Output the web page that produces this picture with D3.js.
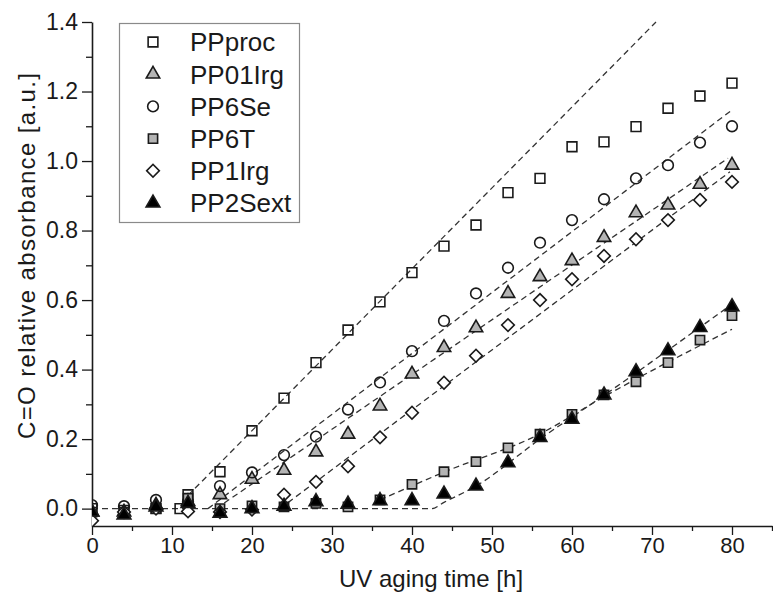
<!DOCTYPE html>
<html><head><meta charset="utf-8">
<script src="https://cdn.jsdelivr.net/npm/d3@7"></script>
<style>
html,body{margin:0;padding:0;background:#fff;}
svg{display:block;font-family:"Liberation Sans",Arial,sans-serif;}
</style></head>
<body><svg id="c" width="773" height="597"></svg>
<script>
// ---- data ----
const hoursProc = [0,4,8,11,12,16,20,24,28,32,36,40,44,48,52,56,60,64,68,72,76,80];
const hours = [0,4,8,12,16,20,24,28,32,36,40,44,48,52,56,60,64,68,72,76,80];
const PPproc  = [0,-0.005,0,0,0.04,0.106,0.224,0.318,0.42,0.514,0.595,0.679,0.755,0.816,0.909,0.95,1.041,1.055,1.099,1.152,1.187,1.224];
const PP01Irg = [-0.01,-0.01,0.01,0.02,0.04,0.084,0.11,0.163,0.214,0.295,0.387,0.463,0.52,0.619,0.667,0.713,0.78,0.851,0.873,0.933,0.988];
const PP6Se   = [0.01,0.007,0.025,0.02,0.065,0.104,0.154,0.207,0.285,0.363,0.453,0.54,0.619,0.693,0.765,0.83,0.89,0.95,0.988,1.053,1.10];
const PP6T    = [-0.01,-0.01,0,0.03,0,0.008,0.005,0.015,0.005,0.025,0.07,0.106,0.135,0.175,0.214,0.271,0.327,0.365,0.42,0.485,0.555];
const PP1Irg  = [-0.035,-0.01,0,-0.008,-0.01,-0.003,0.04,0.077,0.122,0.205,0.276,0.362,0.44,0.528,0.6,0.66,0.727,0.775,0.83,0.888,0.94];
const PP2Sext = [-0.01,-0.018,0.005,0.015,-0.013,0,0.007,0.02,0.013,0.023,0.023,0.042,0.065,0.132,0.205,0.257,0.327,0.394,0.454,0.521,0.581];
// fitted trend lines (dashed) as [hour, value] knots
const fitProc  = [[12,0.038],[70.5,1.40]];
const fitSe    = [[14.5,0],[80,1.147]];
const fit01Irg = [[15.5,0],[79.5,1.008]];
const fit1Irg  = [[23.5,0],[79.75,0.969]];
const fit6T    = [[36,0.025],[44,0.105],[56,0.215],[64,0.322],[80,0.516]];
const fit2Sext = [[0,0],[42.5,0],[44,0.018],[48,0.065],[56,0.2],[64,0.326],[79.5,0.58]];
const seriesNames = ["PPproc","PP01Irg","PP6Se","PP6T","PP1Irg","PP2Sext"];
const xTicks = [0,10,20,30,40,50,60,70,80];
const yTicks = [0.0,0.2,0.4,0.6,0.8,1.0,1.2,1.4];
const xTitle = "UV aging time [h]";
const yTitle = "C=O relative absorbance [a.u.]";

// ---- layout ----
const svg = d3.select("#c");
const L = 92, R = 772, T = 22, B = 526;
const x = d3.scaleLinear().domain([0,85]).range([L,R]);
const y = d3.scaleLinear().domain([-0.05,1.4]).range([B,T]);

const ink = "#1a1a1a";
// axes
const gx = svg.append("g").attr("transform",`translate(0,${B})`);
gx.call(d3.axisBottom(x).tickValues(d3.range(5,86,10)).tickSize(5).tickFormat("").tickSizeOuter(0));
gx.call(g=>g.selectAll(".tick line").attr("stroke",ink).attr("stroke-width",1.3));
const gx2 = svg.append("g").attr("transform",`translate(0,${B})`);
gx2.call(d3.axisBottom(x).tickValues(xTicks).tickSize(9).tickPadding(2).tickFormat(d3.format("d")).tickSizeOuter(0));
gx2.select(".domain").attr("stroke",ink).attr("stroke-width",1.6);
gx2.selectAll(".tick line").attr("stroke",ink).attr("stroke-width",1.3);
gx2.selectAll(".tick text").attr("font-size",22).attr("fill",ink).attr("font-family","Liberation Sans, Arial, sans-serif");
gx.select(".domain").remove();

const gy = svg.append("g").attr("transform",`translate(${L},0)`);
gy.call(d3.axisLeft(y).tickValues(d3.range(0.1,1.35,0.2)).tickSize(6).tickFormat("").tickSizeOuter(0));
gy.selectAll(".tick line").attr("stroke",ink).attr("stroke-width",1.3);
gy.select(".domain").remove();
const gy2 = svg.append("g").attr("transform",`translate(${L},0)`);
gy2.call(d3.axisLeft(y).tickValues(yTicks).tickSize(10).tickPadding(4).tickFormat(d3.format(".1f")).tickSizeOuter(0));
gy2.select(".domain").attr("stroke",ink).attr("stroke-width",1.6);
gy2.selectAll(".tick line").attr("stroke",ink).attr("stroke-width",1.3);
gy2.selectAll(".tick text").attr("font-size",23).attr("fill",ink).attr("font-family","Liberation Sans, Arial, sans-serif");

// titles
svg.append("text").attr("x",431).attr("y",587).attr("text-anchor","middle")
  .attr("font-size",24).attr("fill",ink).text(xTitle);
svg.append("text").attr("transform","translate(35,256) rotate(-90)").attr("text-anchor","middle")
  .attr("font-size",24).attr("textLength",366).attr("lengthAdjust","spacing").attr("fill",ink).text(yTitle);

// clip
svg.append("clipPath").attr("id","clip").append("rect")
  .attr("x",L).attr("y",0).attr("width",R-L+2).attr("height",B-0);
const plot = svg.append("g").attr("clip-path","url(#clip)");

// fit lines
const line = d3.line().x(d=>x(d[0])).y(d=>y(d[1])).curve(d3.curveMonotoneX);
[fitProc,fitSe,fit01Irg,fit1Irg,fit6T,fit2Sext].forEach(f=>{
  plot.append("path").attr("d",line(f)).attr("fill","none")
    .attr("stroke","#333").attr("stroke-width",1.3).attr("stroke-dasharray","6,4");
});

// symbols
const gray = "#b4b4b4";
const styles = {
  PPproc:  {sym:d3.symbolSquare,  size:95,  fill:"none", rot:0},
  PP01Irg: {sym:d3.symbolTriangle,size:78,  fill:gray, rot:0},
  PP6Se:   {sym:d3.symbolCircle,  size:90,  fill:"none", rot:0},
  PP6T:    {sym:d3.symbolSquare,  size:85,  fill:gray, rot:0},
  PP1Irg:  {sym:d3.symbolSquare,  size:80,  fill:"#fff", rot:45},
  PP2Sext: {sym:d3.symbolTriangle,size:82, fill:"#000", rot:0}
};
const seriesData = {
  PPproc: hoursProc.map((h,i)=>[h,PPproc[i]]),
  PP01Irg: hours.map((h,i)=>[h,PP01Irg[i]]),
  PP6Se: hours.map((h,i)=>[h,PP6Se[i]]),
  PP6T: hours.map((h,i)=>[h,PP6T[i]]),
  PP1Irg: hours.map((h,i)=>[h,PP1Irg[i]]),
  PP2Sext: hours.map((h,i)=>[h,PP2Sext[i]])
};
function drawSym(g, name, cx, cy){
  const s = styles[name];
  g.append("path").attr("d",d3.symbol().type(s.sym).size(s.size)())
    .attr("transform",`translate(${cx},${cy}) rotate(${s.rot})`)
    .attr("fill",s.fill==="none"?"none":s.fill).attr("stroke","#1a1a1a").attr("stroke-width",1.6);
}
seriesNames.forEach(n=>{
  const g = plot.append("g");
  seriesData[n].forEach(d=>drawSym(g,n,x(d[0]),y(d[1])));
});

// legend
const lg = svg.append("g");
lg.append("rect").attr("x",119.5).attr("y",23.5).attr("width",180).attr("height",199)
  .attr("fill","#fff").attr("stroke","#8a8a8a").attr("stroke-width",1.2);
seriesNames.forEach((n,i)=>{
  const cy = 42 + 32.2*i;
  drawSym(lg,n,153,cy);
  lg.append("text").attr("x",190).attr("y",cy).attr("dy","0.36em")
    .attr("font-size",26).attr("fill",ink).text(n);
});
</script></body></html>
